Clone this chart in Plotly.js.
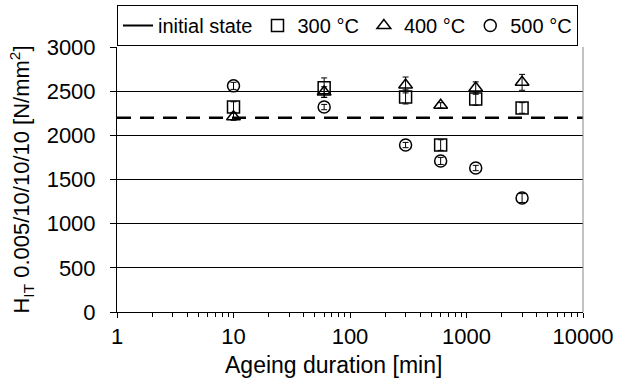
<!DOCTYPE html>
<html>
<head>
<meta charset="utf-8">
<script src="https://cdn.plot.ly/plotly-3.0.1.min.js"></script>
<style>html,body{margin:0;padding:0;background:#fff;}#chart{width:617px;height:379px;}</style>
</head>
<body>
<div id="chart"></div>
<script>
// Ageing durations [min]
var durations = [10, 60, 300, 600, 1200, 3000];
// Hardness H_IT [N/mm^2]
var hit300 = [2320, 2540, 2435, 1890, 2410, 2310];
var err300 = [60, 110, 80, 60, 70, 60];
var hit400 = [2210, 2490, 2570, 2340, 2535, 2600];
var err400 = [40, 60, 90, 30, 70, 90];
var hit500 = [2560, 2320, 1890, 1710, 1630, 1290];
var err500 = [40, 30, 30, 40, 30, 50];
// Initial state reference level
var initialState = 2200;
var initialRange = [1, 10000];
var xTicks = [1, 10, 100, 1000, 10000];
var yTicks = [0, 500, 1000, 1500, 2000, 2500, 3000];

var FONT = 'Liberation Sans, Arial, sans-serif';

function pointTrace(name, y, err, symbol) {
  return {
    type: 'scatter', mode: 'markers', name: name,
    x: durations, y: y,
    marker: {symbol: symbol, size: 12, color: '#000', line: {color: '#000', width: 1.5}},
    error_y: {type: 'data', array: err, visible: true, color: '#000', thickness: 1, width: 3}
  };
}

var traces = [
  {type: 'scatter', mode: 'lines', x: initialRange, y: [initialState, initialState],
   line: {color: '#000', width: 2.5, dash: '14px,9px'}, showlegend: false, hoverinfo: 'skip'},
  {type: 'scatter', mode: 'lines', name: 'initial state', x: [null], y: [null],
   line: {color: '#000', width: 2}},
  pointTrace('300 °C', hit300, err300, 'square-open'),
  pointTrace('400 °C', hit400, err400, 'triangle-up-open'),
  pointTrace('500 °C', hit500, err500, 'circle-open')
];

var layout = {
  width: 617, height: 379,
  margin: {l: 117, r: 34, t: 47, b: 67, pad: 0, autoexpand: false},
  paper_bgcolor: '#fff', plot_bgcolor: '#fff',
  font: {family: FONT, size: 22, color: '#000'},
  showlegend: true,
  legend: {orientation: 'h', x: 0, xanchor: 'left',
    y: 1 + 1 / 265, yanchor: 'bottom',
    bordercolor: '#000', borderwidth: 1, font: {family: FONT, size: 20, color: '#000'},
    itemwidth: 30, tracegroupgap: 0, bgcolor: '#fff'},
  xaxis: {type: 'log', range: [0, 4], tickvals: xTicks, ticktext: xTicks.map(String),
    showgrid: false, zeroline: false, showline: true, linecolor: '#000', linewidth: 1,
    ticks: 'outside', ticklen: 5, tickcolor: '#000', tickfont: {family: FONT, size: 22},
    minor: {ticks: 'outside', ticklen: 4, tickcolor: '#000', dtick: 'D1', showgrid: false},
    title: {text: ''}},
  yaxis: {range: [0, 3000], tickvals: yTicks, showgrid: true, gridcolor: '#000', gridwidth: 1,
    zeroline: false, showline: true, linecolor: '#000', linewidth: 1,
    ticks: 'outside', ticklen: 6, tickcolor: '#000', ticklabelstandoff: 10,
    tickfont: {family: FONT, size: 22},
    title: {text: 'H<sub>IT</sub> 0.005/10/10/10 [N/mm<sup>2</sup>]', font: {family: FONT, size: 22}, standoff: 10}},
  shapes: [{type: 'line', xref: 'paper', yref: 'paper', x0: 1, x1: 1, y0: 0, y1: 1,
    line: {color: '#888', width: 1}}],
  annotations: [{text: 'Ageing duration [min]', xref: 'paper', yref: 'paper', x: 0.465, y: 0,
    yshift: -38, xanchor: 'center', yanchor: 'top', showarrow: false,
    font: {family: FONT, size: 23, color: '#000'}}]
};

Plotly.newPlot('chart', traces, layout, {displayModeBar: false, staticPlot: true});
</script>
</body>
</html>
